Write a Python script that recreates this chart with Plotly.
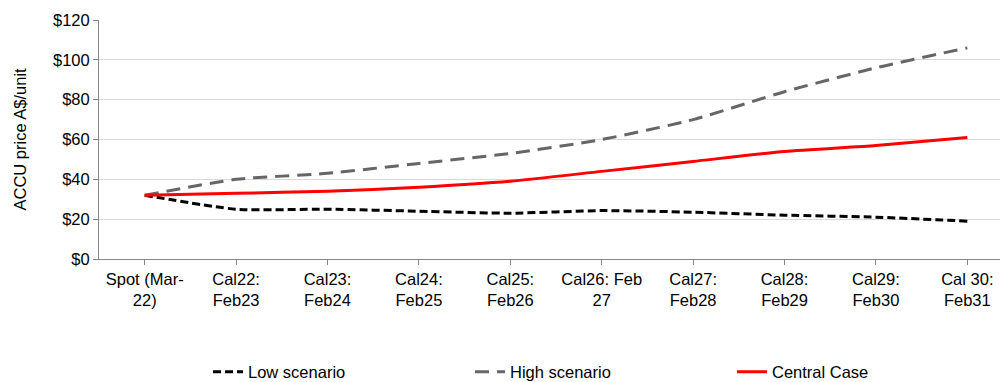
import plotly.graph_objects as go

categories = ["Spot (Mar-<br>22)", "Cal22:<br>Feb23", "Cal23:<br>Feb24", "Cal24:<br>Feb25",
              "Cal25:<br>Feb26", "Cal26: Feb<br>27", "Cal27:<br>Feb28", "Cal28:<br>Feb29",
              "Cal29:<br>Feb30", "Cal 30:<br>Feb31"]
low = [32, 25, 25, 24, 23, 24.3, 23.5, 22, 21, 19]
high = [32, 40, 43, 48, 53, 60, 70, 84, 96, 106]
central = [32, 33, 34, 36, 39, 44, 49, 54, 57, 61]
y_ticks = [0, 20, 40, 60, 80, 100, 120]
y_labels = ["$0", "$20", "$40", "$60", "$80", "$100", "$120"]

FONT = "Liberation Sans, Arial, sans-serif"
FS = 16.5
x = list(range(len(categories)))

fig = go.Figure()
fig.add_trace(go.Scatter(x=x, y=low, name="Low scenario", mode="lines",
                         line=dict(color="#000000", width=3, dash="8px,4px", shape="spline", smoothing=0.6)))
fig.add_trace(go.Scatter(x=x, y=high, name="High scenario", mode="lines",
                         line=dict(color="#666666", width=3, dash="14px,8px", shape="spline", smoothing=0.6)))
fig.add_trace(go.Scatter(x=x, y=central, name="Central Case", mode="lines",
                         line=dict(color="#ff0000", width=3, shape="spline", smoothing=0.6)))

fig.update_layout(
    width=1000, height=374,
    margin=dict(l=91, r=0, t=12, b=123),
    paper_bgcolor="white", plot_bgcolor="white",
    font=dict(family=FONT, size=FS, color="#000000"),
    showlegend=True,
    legend=dict(orientation="h", xref="container", yref="container",
                x=200 / 1000, y=0.027, xanchor="left", yanchor="middle",
                font=dict(size=FS), entrywidth=217, entrywidthmode="pixels",
                bgcolor="rgba(0,0,0,0)"),
    xaxis=dict(range=[-0.5, 9.445], tickmode="array", tickvals=x, ticktext=categories,
               showgrid=False, zeroline=False, showline=True, linecolor="#868686", linewidth=1,
               ticks="outside", tickson="boundaries", ticklen=5, tickcolor="#868686",
               tickfont=dict(size=FS), automargin=False, fixedrange=True),
    yaxis=dict(range=[0, 120], tickmode="array", tickvals=y_ticks, ticktext=y_labels,
               showgrid=True, gridcolor="#d9d9d9", gridwidth=1, zeroline=False,
               showline=True, linecolor="#868686", linewidth=1,
               ticks="outside", ticklen=5, tickcolor="#868686",
               tickfont=dict(size=FS), automargin=False, fixedrange=True),
    annotations=[dict(text="ACCU price A$/unit", xref="paper", yref="paper",
                      x=(19 - 99) / 909, y=0.5, xanchor="center", yanchor="middle",
                      textangle=-90, showarrow=False, font=dict(size=FS))],
)

fig.write_html("out.html")
